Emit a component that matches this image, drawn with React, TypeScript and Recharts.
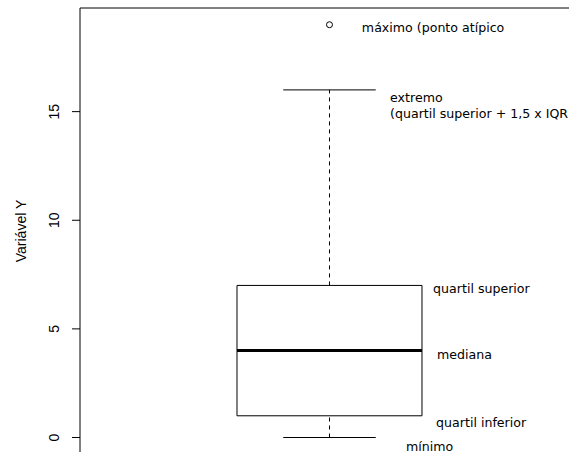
import React from 'react';
import { ComposedChart, XAxis, YAxis, Scatter, ReferenceLine, ReferenceArea } from 'recharts';

// ---- data ----
const yTicks = [0, 5, 10, 15];
const boxCenter = 1;
const boxHalfWidth = 0.4;
const capHalfWidth = 0.2;
const boxStats = { lowerWhisker: 0, q1: 1, median: 4, q3: 7, upperWhisker: 16 };
const outliers = [{ x: 1, y: 19 }];
const annotations = [
  { x: 1.14, y: 18.85, label: 'máximo (ponto atípico' },
  { x: 1.262, y: 15.65, label: 'extremo' },
  { x: 1.262, y: 14.92, label: '(quartil superior + 1,5 x IQR)' },
  { x: 1.448, y: 6.84, label: 'quartil superior' },
  { x: 1.465, y: 3.84, label: 'mediana' },
  { x: 1.461, y: 0.67, label: 'quartil inferior' },
  { x: 1.331, y: -0.40, label: 'mínimo' },
];
const yDomain: [number, number] = [-0.667, 19.77];
const xDomain: [number, number] = [-0.0789, 2.0357];
const yLabel = 'Variável Y';

const AXIS_FONT = 'Liberation Sans, Arial, sans-serif';
const TEXT_FONT = 'DejaVu Sans, sans-serif';

const YTick = (props: any) => {
  const { x, y, payload } = props;
  const bx = x - 10.5;
  return (
    <text
      x={bx}
      y={y}
      transform={`rotate(-90 ${bx} ${y})`}
      textAnchor="middle"
      fontFamily={AXIS_FONT}
      fontSize={14}
      fill="#000"
    >
      {payload.value}
    </text>
  );
};

const YLabelContent = (props: any) => {
  const { viewBox } = props;
  const cy = viewBox.y + viewBox.height / 2 + 1;
  const bx = 26;
  return (
    <text
      x={bx}
      y={cy}
      transform={`rotate(-90 ${bx} ${cy})`}
      textAnchor="middle"
      fontFamily={AXIS_FONT}
      fontSize={14}
      fill="#000"
    >
      {yLabel}
    </text>
  );
};

const AnnotationShape = (props: any) => {
  const { cx, cy, payload } = props;
  return (
    <text
      x={cx}
      y={cy}
      dominantBaseline="central"
      fontFamily={TEXT_FONT}
      fontSize={12.6}
      fill="#000"
    >
      {payload.label}
    </text>
  );
};

const OutlierShape = (props: any) => {
  const { cx, cy } = props;
  return <circle cx={cx} cy={cy} r={3} fill="none" stroke="#000" strokeWidth={1} />;
};

export default function App() {
  const L = boxCenter - boxHalfWidth;
  const R = boxCenter + boxHalfWidth;
  const cL = boxCenter - capHalfWidth;
  const cR = boxCenter + capHalfWidth;
  return (
    <div style={{ position: 'absolute', left: 0, top: 0, background: '#fff' }}>
      <ComposedChart
        width={569}
        height={452}
        margin={{ top: 8, right: 0, bottom: 0, left: 0 }}
        style={{ background: '#fff' }}
      >
        <XAxis type="number" dataKey="x" domain={xDomain} hide allowDataOverflow />
        <YAxis
          type="number"
          dataKey="y"
          domain={yDomain}
          ticks={yTicks}
          width={80}
          tickSize={8}
          tickMargin={2}
          allowDataOverflow
          axisLine={{ stroke: '#000', strokeWidth: 1 }}
          tickLine={{ stroke: '#000', strokeWidth: 1 }}
          tick={<YTick />}
          label={{ content: <YLabelContent /> } as any}
        />
        <ReferenceLine y={yDomain[1]} stroke="#000" strokeWidth={1} ifOverflow="visible" />
        {/* whiskers */}
        <ReferenceLine
          segment={[{ x: boxCenter, y: boxStats.q3 }, { x: boxCenter, y: boxStats.upperWhisker }]}
          stroke="#000"
          strokeDasharray="4 4"
        />
        <ReferenceLine
          segment={[{ x: boxCenter, y: boxStats.lowerWhisker }, { x: boxCenter, y: boxStats.q1 }]}
          stroke="#000"
          strokeDasharray="4 4"
        />
        <ReferenceLine
          segment={[{ x: cL, y: boxStats.upperWhisker }, { x: cR, y: boxStats.upperWhisker }]}
          stroke="#000"
        />
        <ReferenceLine
          segment={[{ x: cL, y: boxStats.lowerWhisker }, { x: cR, y: boxStats.lowerWhisker }]}
          stroke="#000"
        />
        {/* box */}
        <ReferenceArea
          x1={L}
          x2={R}
          y1={boxStats.q1}
          y2={boxStats.q3}
          fill="none"
          fillOpacity={0}
          stroke="#000"
          strokeOpacity={1}
          strokeWidth={1}
        />
        <ReferenceLine
          segment={[{ x: L, y: boxStats.median }, { x: R, y: boxStats.median }]}
          stroke="#000"
          strokeWidth={3}
        />
        <Scatter data={outliers} shape={<OutlierShape />} isAnimationActive={false} />
        <Scatter data={annotations} shape={<AnnotationShape />} isAnimationActive={false} />
      </ComposedChart>
    </div>
  );
}
